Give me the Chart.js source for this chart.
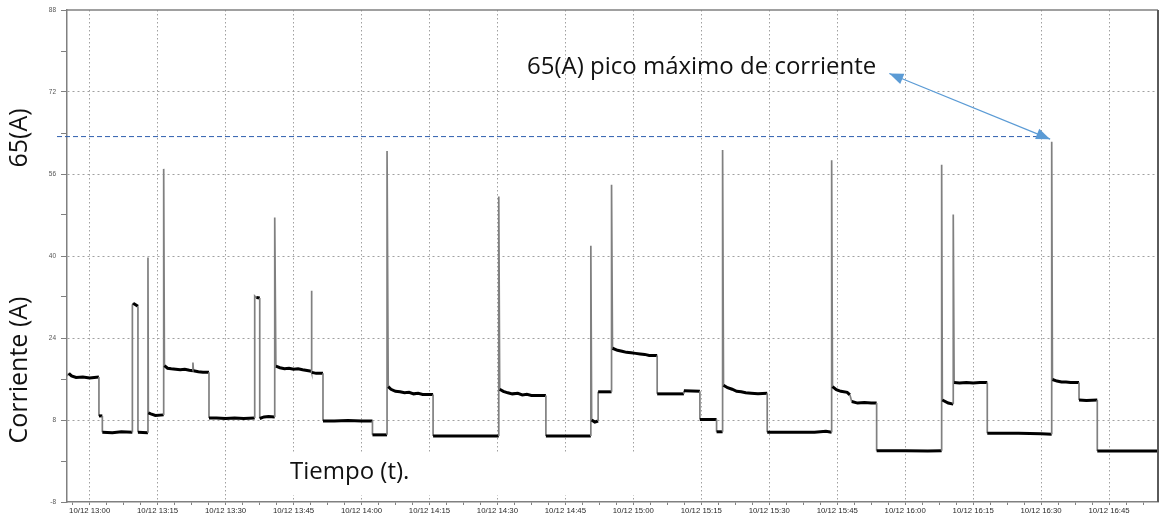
<!DOCTYPE html>
<html>
<head>
<meta charset="utf-8">
<title>Corriente (A) - 10/12</title>
<script src="https://cdn.jsdelivr.net/npm/chart.js"></script>
<style>
  html, body { margin: 0; padding: 0; background: #fff; }
  #wrap { width: 1161px; height: 516px; }
</style>
</head>
<body>
<div id="wrap"><canvas id="chart" width="1161" height="516"></canvas></div>
<script>
// time in minutes after 10/12 13:00, current in A
const minutes = [
  -5, -4.6, -4, -3, -1.5, 0, 1, 2.05, 2.05, 2.8, 2.8, 5, 7, 9.43, 9.43, 9.6, 10.66, 10.66,
  12.87, 12.87, 12.95, 13.5, 14.5, 16.34, 16.34, 16.5, 17.2, 18, 19, 20, 21, 22, 22.8, 22.8, 22.9,
  24, 25, 26.34, 26.34, 28, 30, 32, 34, 36.43, 36.43, 36.8, 37.54, 37.54, 38.5, 39.5, 40.85, 40.85,
  41.1, 42, 43, 44, 45, 46, 47, 48.95, 48.95, 49.05, 50, 51.5, 51.5, 54, 57, 60, 62.42, 62.42,
  65.64, 65.64, 65.9, 66.5, 67.5, 68.5, 69.5, 70.5, 71.5, 72.5, 73.5, 74.5, 75.8, 75.8, 80, 85,
  90.3, 90.3, 90.5, 91.3, 92.3, 93.3, 94.5, 95.5, 96.5, 97.5, 98.5, 100.7, 100.7, 105, 110.62,
  110.62, 110.8, 111.5, 112.23, 112.23, 115.19, 115.19, 115.4, 116.5, 117.5, 118.5, 119.5, 120.5,
  121.5, 122.5, 123.5, 125.26, 125.26, 128, 131.16, 131.16, 134.69, 134.69, 138.37, 138.37, 139.7,
  139.7, 139.9, 140.8, 141.8, 142.8, 143.8, 144.8, 146, 147.5, 149.55, 149.55, 155, 160, 162.5,
  163.77, 163.77, 163.95, 164.8, 165.8, 167.2, 167.8, 168.2, 169.5, 171, 172.5, 173.7, 173.7, 180,
  185, 188.05, 188.05, 188.2, 189.5, 190.61, 190.61, 190.8, 192, 193.5, 195, 196.5, 198.12, 198.12,
  205, 210, 212.34, 212.34, 212.5, 213.5, 214.5, 215.5, 216.5, 218.37, 218.37, 220, 222.4, 222.4, 235.8
];
const amps = [
  16.6, 17.1, 16.6, 16.3, 16.4, 16.2, 16.3, 16.4, 8.8, 8.8, 5.6, 5.5, 5.7, 5.6, 30.4, 30.8, 30.2, 5.6,
  5.5, 39.7, 9.4, 9.2, 8.9, 9.0, 57.0, 18.6, 18.1, 18.0, 17.9, 17.8, 17.9, 17.7, 17.6, 19.2, 17.6,
  17.4, 17.3, 17.3, 8.4, 8.4, 8.3, 8.4, 8.3, 8.4, 32.2, 31.9, 31.8, 8.3, 8.6, 8.7, 8.6, 47.5,
  18.5, 18.2, 18.0, 18.1, 17.9, 18.0, 17.8, 17.5, 33.2, 17.3, 17.1, 17.1, 7.8, 7.8, 7.9, 7.8, 7.8, 5.1,
  5.1, 60.5, 14.5, 14.0, 13.6, 13.5, 13.3, 13.4, 13.1, 13.2, 13.0, 13.0, 13.0, 4.9, 4.9, 4.9,
  4.9, 51.6, 14.0, 13.6, 13.3, 13.1, 13.2, 12.9, 13.0, 12.8, 12.8, 12.8, 4.9, 4.9, 4.9,
  42.0, 8.0, 7.6, 7.8, 13.5, 13.5, 53.9, 22.0, 21.6, 21.4, 21.2, 21.1, 21.0,
  20.9, 20.8, 20.6, 20.6, 13.1, 13.1, 13.1, 13.7, 13.6, 8.1, 8.1, 5.7, 5.7,
  60.7, 14.8, 14.3, 14.0, 13.6, 13.5, 13.3, 13.2, 13.1, 13.2, 5.6, 5.6, 5.6, 5.8,
  5.6, 58.7, 14.5, 13.9, 13.6, 13.4, 12.9, 11.6, 11.3, 11.4, 11.3, 11.3, 2.0, 2.0,
  1.95, 2.0, 57.8, 11.9, 11.3, 11.1, 48.1, 15.3, 15.2, 15.3, 15.2, 15.3, 15.3, 5.4,
  5.4, 5.3, 5.2, 62.3, 15.9, 15.6, 15.4, 15.4, 15.3, 15.3, 11.9, 11.8, 11.9, 1.95, 1.95
];

const timeLabelMinutes = [0, 15, 30, 45, 60, 75, 90, 105, 120, 135, 150, 165, 180, 195, 210, 225];
const timeLabels = [
  '10/12 13:00', '10/12 13:15', '10/12 13:30', '10/12 13:45', '10/12 14:00', '10/12 14:15',
  '10/12 14:30', '10/12 14:45', '10/12 15:00', '10/12 15:15', '10/12 15:30', '10/12 15:45',
  '10/12 16:00', '10/12 16:15', '10/12 16:30', '10/12 16:45'
];
const ampLabels = [-8, 8, 24, 40, 56, 72, 88];

const peakLevel = 63.3;          // dashed "65(A)" reference line
const arrowFrom = [176.5, 75.6]; // [minutes, A]
const arrowTo = [212.0, 62.8];

const points = minutes.map((m, i) => ({ x: m, y: amps[i] }));

function arrowHead(c, x0, y0, x1, y1) {
  const a = Math.atan2(y1 - y0, x1 - x0);
  const len = 14, half = 5.5;
  c.beginPath();
  c.moveTo(x1, y1);
  c.lineTo(x1 - len * Math.cos(a) + half * Math.sin(a), y1 - len * Math.sin(a) - half * Math.cos(a));
  c.lineTo(x1 - len * Math.cos(a) - half * Math.sin(a), y1 - len * Math.sin(a) + half * Math.cos(a));
  c.closePath();
  c.fill();
}

const overlay = {
  id: 'overlay',
  beforeDatasetsDraw(chart) {
    const c = chart.ctx;
    c.save();
    // text box of "Tiempo (t)." hides the grid behind it
    c.fillStyle = '#fff';
    c.fillRect(262, 452, 398, 43);
    c.fillStyle = '#111';
    c.font = '24px "Open Sans"';
    c.fillText('Tiempo (t).', 290, 479);
    c.restore();
  },
  afterDatasetsDraw(chart) {
    const c = chart.ctx;
    const xs = chart.scales.x, ys = chart.scales.y;
    c.save();
    // dashed peak line
    const yp = ys.getPixelForValue(peakLevel);
    c.strokeStyle = '#2f5fae';
    c.lineWidth = 1;
    c.setLineDash([5, 3]);
    c.beginPath();
    c.moveTo(57, yp);
    c.lineTo(xs.getPixelForValue(211.3), yp);
    c.stroke();
    c.setLineDash([]);

    // double-headed arrow
    const ax0 = xs.getPixelForValue(arrowFrom[0]), ay0 = ys.getPixelForValue(arrowFrom[1]);
    const ax1 = xs.getPixelForValue(arrowTo[0]), ay1 = ys.getPixelForValue(arrowTo[1]);
    c.strokeStyle = '#5b9bd5';
    c.fillStyle = '#5b9bd5';
    c.lineWidth = 1.2;
    c.beginPath();
    c.moveTo(ax0, ay0);
    c.lineTo(ax1, ay1);
    c.stroke();
    arrowHead(c, ax0, ay0, ax1, ay1);
    arrowHead(c, ax1, ay1, ax0, ay0);

    // annotation texts
    c.fillStyle = '#111';
    c.font = '24px "Open Sans"';
    c.fillText('65(A) pico máximo de corriente', 527, 74);

    c.font = '25px "Open Sans"';
    c.textAlign = 'center';
    c.save();
    c.translate(27, 138);
    c.rotate(-Math.PI / 2);
    c.fillText('65(A)', 0, 0);
    c.restore();
    c.save();
    c.translate(27, 370);
    c.rotate(-Math.PI / 2);
    c.fillText('Corriente (A)', 0, 0);
    c.restore();
    c.restore();
  },
  afterDraw(chart) {
    const c = chart.ctx, a = chart.chartArea;
    c.save();
    c.strokeStyle = '#808080';
    c.lineWidth = 1.5;
    c.beginPath();
    c.moveTo(a.left, a.top);
    c.lineTo(a.right, a.top);
    c.stroke();
    c.strokeStyle = '#5a5a5a';
    c.lineWidth = 2;
    c.beginPath();
    c.moveTo(a.right, a.top);
    c.lineTo(a.right, a.bottom);
    c.stroke();
    c.restore();
  }
};

new Chart(document.getElementById('chart'), {
  type: 'line',
  data: {
    datasets: [{
      data: points,
      borderColor: '#000',
      borderWidth: 3,
      pointRadius: 0,
      tension: 0,
      segment: {
        borderColor: ctx => Math.abs(ctx.p1.x - ctx.p0.x) < 2 ? '#808080' : '#000',
        borderWidth: ctx => Math.abs(ctx.p1.x - ctx.p0.x) < 2 ? 1.7 : 3
      }
    }]
  },
  options: {
    responsive: false,
    animation: false,
    devicePixelRatio: 1,
    layout: { padding: { top: 10, right: 3, left: 0, bottom: 0 } },
    plugins: { legend: { display: false }, tooltip: { enabled: false } },
    scales: {
      x: {
        type: 'linear',
        min: -5,
        max: 235.8,
        afterBuildTicks: axis => {
          const t = [];
          for (let m = -3.75; m <= 235.8; m += 3.75) t.push({ value: m });
          axis.ticks = t;
        },
        afterFit: s => { s.height = 14; },
        ticks: {
          autoSkip: false,
          maxRotation: 0,
          minRotation: 0,
          padding: 1,
          color: '#2a2a2a',
          font: { family: 'Liberation Sans', size: 7.8 },
          callback: v => {
            const i = timeLabelMinutes.indexOf(v);
            return i >= 0 ? timeLabels[i] : '';
          }
        },
        grid: {
          color: ctx => ctx.tick && timeLabelMinutes.includes(ctx.tick.value) ? '#a0a0a0' : 'transparent',
          lineWidth: 1,
          tickColor: '#808080',
          tickLength: 3,
          tickBorderDash: []
        },
        border: { color: '#808080', width: 1.5, dash: [1.5, 2.5] }
      },
      y: {
        min: -8,
        max: 88,
        afterBuildTicks: axis => {
          const t = [];
          for (let v = -8; v <= 88; v += 8) t.push({ value: v });
          axis.ticks = t;
        },
        afterFit: s => { s.width = 67; },
        ticks: {
          autoSkip: false,
          padding: 5,
          color: '#555',
          font: { family: 'Liberation Sans', size: 6.5 },
          callback: v => ampLabels.includes(v) ? String(v) : ''
        },
        grid: {
          color: ctx => ctx.tick && ampLabels.includes(ctx.tick.value) && ctx.tick.value > -8 && ctx.tick.value < 88 ? '#a0a0a0' : 'transparent',
          lineWidth: 1,
          tickColor: '#808080',
          tickLength: 6,
          tickBorderDash: []
        },
        border: { color: '#808080', width: 1.5, dash: [2, 3] }
      }
    }
  },
  plugins: [overlay]
});
</script>
</body>
</html>
